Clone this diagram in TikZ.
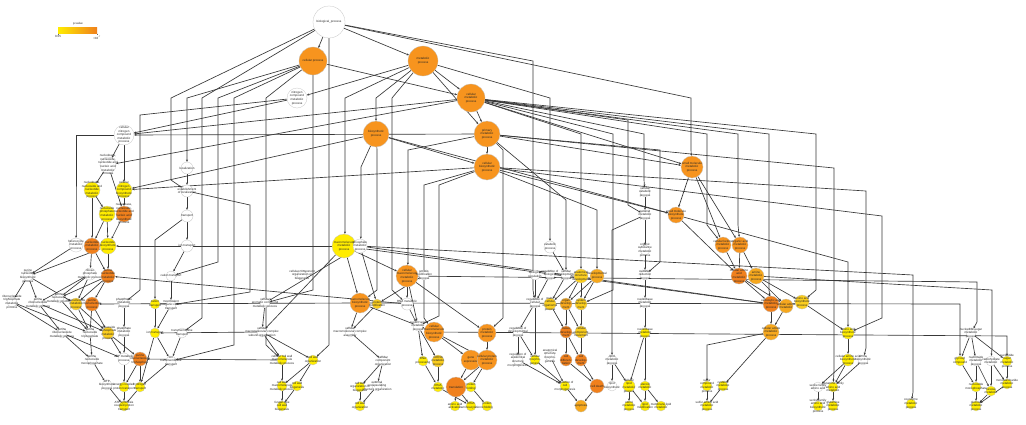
\documentclass[tikz,border=0pt]{standalone}
\usepackage{fontspec}
\setmainfont{Liberation Sans}
\usetikzlibrary{arrows.meta}
\pgfdeclarelayer{bg}
\pgfdeclarelayer{paper}
\pgfsetlayers{paper,bg,main}
\definecolor{OR}{RGB}{247,148,30}
\definecolor{OD}{RGB}{240,128,28}
\definecolor{OY}{RGB}{246,168,30}
\definecolor{YO}{RGB}{250,205,30}
\definecolor{YE}{RGB}{255,236,0}
\tikzset{
  gcirc/.style={circle,draw=gray!45,line width=0.3pt,inner sep=0pt},
  glab/.style={font=\fontsize{3}{3.6}\selectfont,align=center,inner sep=0pt,text=black!85},
  ed/.style={draw=black!78,line width=0.65pt,-{Stealth[length=2.4pt,width=2pt]}},
}
\newcommand\gnode[6]{\node[gcirc,minimum size=#4,fill=#5] (#1) at (#2,#3) {};\node[glab] at (#1) {#6};}
\newcommand\ed[2]{\draw[ed] (#1) -- (#2);}
\newcommand\eb[5]{\draw[ed] (#1) -- (#3,#4) -- (#3,#5) -- (#2);}
\begin{document}
\begin{tikzpicture}[x=1pt,y=-1pt]
\begin{pgfonlayer}{paper}
\fill[white] (0,0) rectangle (1026,424);
\end{pgfonlayer}
\useasboundingbox (0,0) rectangle (1026,424);
% legend
\node[glab] (pv) at (78,24) {p-value};
\node[minimum width=39,minimum height=6,inner sep=0pt,left color=YE,right color=OD,draw=none] (bar) at (77.5,30.5) {};
\node[glab,anchor=north] (l1) at (58,35.5) {0.05};
\node[glab,anchor=north] (l2) at (97,35.5) {<10\textsuperscript{-7}};
\draw[black!60,line width=0.3pt] (bar.south west) -- ++(0,1.5) (bar.south east) -- ++(0,1.5);
% nodes top
\gnode{bp}{329}{22}{32}{white}{biological\_process}
\gnode{cp}{313}{61}{28}{OR}{cellular process}
\gnode{mp}{423}{61}{30}{OR}{metabolic\\process}
\gnode{ncmp}{297}{98}{20}{white}{nitrogen\\compound\\metabolic\\process}
\gnode{cmp}{471}{98}{28}{OR}{cellular\\metabolic\\process}
\gnode{bsp}{376}{134}{26}{OR}{biosynthetic\\process}
\gnode{pmp}{487}{134}{26}{OR}{primary\\metabolic\\process}
\gnode{cbp}{487}{167}{26}{OR}{cellular\\biosynthetic\\process}
\gnode{smmp}{692}{167}{22}{OR}{small molecule\\metabolic\\process}
\gnode{cncmp}{124}{135}{20}{white}{cellular\\nitrogen\\compound\\metabolic\\process}
\gnode{nnmp}{108}{165}{16}{white}{nucleobase,\\nucleoside,\\nucleotide and\\nucleic acid\\metabolic\\process}
\gnode{loc}{187}{168}{12}{white}{localization}
\gnode{eloc}{187}{191}{12}{white}{establishment\\of localization}
\gnode{trans}{187}{216}{12}{white}{transport}
\gnode{iont}{187}{246}{12}{white}{ion transport}
\gnode{nnmp2}{92}{190}{16}{YE}{nucleobase,\\nucleoside and\\nucleotide\\metabolic\\process}
\gnode{cncbp}{124}{190}{16}{YE}{cellular\\nitrogen\\compound\\biosynthetic\\process}
\gnode{npmp}{107}{214}{16}{YE}{nucleoside\\phosphate\\metabolic\\process}
\gnode{nnbp}{124}{214}{16}{OD}{nucleobase,\\nucleoside,\\nucleotide and\\nucleic acid\\biosynthetic\\process}
\gnode{hmp}{76}{245}{14}{white}{heterocycle\\metabolic\\process}
\gnode{ntmp}{92}{246}{16}{OD}{nucleotide\\metabolic\\process}
\gnode{nbp}{108}{246}{16}{YE}{nucleotide\\biosynthetic\\process}
\gnode{mmp}{344}{246}{24}{YE}{macromolecule\\metabolic\\process}
\gnode{cmmp}{360}{246}{14}{white}{phosphate\\metabolic\\process}
\gnode{cat}{550}{247}{12}{white}{catabolic\\process}
\gnode{ccp}{645}{192}{10}{white}{cellular\\catabolic\\process}
\gnode{oxp}{645}{215}{10}{white}{oxoacid\\metabolic\\process}
\gnode{ocap}{645}{250}{10}{white}{organic\\substance\\metabolic\\process}
\gnode{smbp}{676}{215}{16}{OR}{small molecule\\biosynthetic\\process}
\gnode{ckmp}{723}{245}{16}{OR}{cellular ketone\\metabolic\\process}
\gnode{camp}{740}{245}{16}{OR}{organic acid\\metabolic\\process}
% row 276
\gnode{ra}{28}{276}{10}{white}{purine\\nucleotide\\biosynthetic\\process}
\gnode{rb}{90}{274}{12}{white}{ribose\\phosphate\\metabolic process}
\gnode{rc}{108}{276}{14}{OD}{purine\\nucleotide\\metabolic\\process}
\gnode{rd}{171}{276}{10}{white}{cation transport}
\gnode{re}{302}{275}{10}{white}{cellular component\\organization or\\biogenesis}
\gnode{rf}{407}{276}{22}{OR}{cellular\\macromolecule\\metabolic\\process}
\gnode{rg}{424}{275}{10}{white}{protein\\modification\\process}
\gnode{rh}{535}{275}{10}{white}{biological\\regulation}
\gnode{ri}{550}{275}{10}{white}{regulation of\\biological\\process}
\gnode{rj}{566}{275}{10}{white}{cellular\\developmental\\process}
\gnode{rk}{581}{276}{14}{YO}{anatomical\\structure\\development}
\gnode{rl}{597}{276}{14}{OY}{developmental\\process}
\gnode{rm}{645}{275}{10}{white}{oxidation\\reduction\\process}
\gnode{rn}{739}{276}{16}{OD}{cellular amino\\acid\\metabolic\\process}
\gnode{ro}{756}{276}{16}{OY}{amine\\metabolic\\process}
% row 304
\gnode{sa}{12}{302}{10}{white}{ribonucleoside\\triphosphate\\metabolic\\process}
\gnode{sb}{38}{303}{10}{white}{purine\\ribonucleotide\\metabolic process}
\gnode{sc}{59}{298}{10}{white}{purine\\nucleoside\\metabolic process}
\gnode{sd}{76}{304}{12}{YO}{ribonucleotide\\metabolic\\process}
\gnode{se}{92}{304}{14}{OD}{purine\\ribonucleotide\\process}
\gnode{sf}{124}{303}{10}{white}{phosphorus\\metabolic\\process}
\gnode{sg}{155}{304}{10}{YE}{cation\\transport}
\gnode{sh}{171}{305}{10}{white}{monovalent\\inorganic cation\\transport}
\gnode{si}{265}{303}{10}{white}{cellular\\aromatic compound\\metabolic process}
\gnode{sj}{360}{303}{20}{OR}{macromolecule\\biosynthetic\\process}
\gnode{sk}{377}{304}{10}{YO}{protein\\modification}
\gnode{sl}{407}{304}{12}{white}{RNA metabolic\\process}
\gnode{sm}{535}{303}{10}{white}{regulation of\\cellular\\process}
\gnode{sn}{550}{304}{12}{YO}{multi-\\cellular\\organismal\\process}
\gnode{so}{566}{304}{12}{OY}{organ\\develop-\\ment}
\gnode{sp}{581}{304}{12}{YO}{system\\develop-\\ment}
\gnode{sq}{645}{303}{10}{white}{nucleobase\\metabolic\\process}
\gnode{sr}{771}{304}{16}{OD}{carboxylic acid\\metabolic\\process}
\gnode{ss}{786}{306}{14}{OY}{cellular amine\\metabolic}
\gnode{st}{802}{302}{14}{YO}{amino acid\\biosynthetic\\process}
% row 333
\gnode{ta}{62}{333}{10}{white}{purine\\ribonucleoside\\metabolic process}
\gnode{tb}{90}{333}{10}{white}{purine\\nucleoside\\triphosphate}
\gnode{tc}{108}{333}{12}{YO}{nucleoside\\triphosphate\\metabolic\\process}
\gnode{td}{124}{332}{10}{white}{phosphate\\metabolic\\process}
\gnode{te}{155}{333}{10}{YE}{ion transport}
\gnode{tf}{182}{333}{10}{white}{transmembrane\\transport}
\gnode{tg}{262}{332}{10}{white}{cellular\\macromolecular complex\\subunit organization}
\gnode{th}{350}{332}{10}{white}{cellular\\macromolecular complex\\assembly}
\gnode{ti}{418}{326}{10}{white}{nucleic acid\\metabolic\\process}
\gnode{tj}{434}{332}{20}{OR}{cellular\\macromolecule\\biosynthetic\\process}
\gnode{tk}{487}{333}{18}{OR}{protein\\metabolic\\process}
\gnode{tl}{518}{332}{10}{white}{regulation of\\developmental\\process}
\gnode{tm}{566}{332}{12}{OD}{tissue\\develop-\\ment}
\gnode{tn}{581}{332}{12}{YO}{cellular\\component\\movement}
\gnode{tp}{645}{333}{10}{YE}{nucleobase\\metabolic\\process}
\gnode{tr}{771}{332}{16}{OY}{cellular amide\\metabolic\\process}
\gnode{ts}{848}{333}{12}{YE}{amino acid\\biosynthetic\\process}
\gnode{tt}{971}{333}{10}{white}{nucleotide-sugar\\metabolic\\process}
% row 360
\gnode{ua}{92}{360}{10}{white}{purine\\nucleoside\\monophosphate}
\gnode{ub}{124}{359}{12}{white}{ATP metabolic\\process}
\gnode{uc}{140}{359}{14}{OD}{purine\\ribonucleoside\\triphosphate}
\gnode{ud}{171}{361}{10}{white}{ion\\transmembrane\\transport}
\gnode{ue}{282}{360}{10}{YE}{cellular cell wall\\macromolecule\\metabolic process}
\gnode{uf}{313}{360}{10}{YE}{cell wall\\organization}
\gnode{ug}{383}{361}{10}{white}{cellular\\component\\organization}
\gnode{uh}{423}{361}{10}{YE}{RNA\\processing}
\gnode{ui}{438}{361}{12}{YO}{ncRNA\\metabolic\\process}
\gnode{uj}{471}{360}{20}{OR}{gene\\expression}
\gnode{uk}{487}{360}{20}{OR}{cellular protein\\metabolic\\process}
\gnode{ul}{518}{360}{10}{white}{regulation of\\anatomical\\structure\\morphogenesis}
\gnode{um}{535}{360}{10}{YE}{cellular\\morpho-\\genesis}
\gnode{un}{550}{356}{10}{white}{anatomical\\structure\\morpho-\\genesis}
\gnode{uo}{566}{360}{12}{OD}{cell\\differen-\\tiation}
\gnode{up}{581}{360}{12}{OD}{cell\\develop-\\ment}
\gnode{uq}{612}{360}{10}{white}{lipid\\metabolic\\process}
\gnode{ur}{848}{360}{12}{YE}{cellular amino acid\\biosynthetic\\process}
\gnode{us}{863}{360}{10}{white}{amine\\biosynthetic\\process}
\gnode{ut}{960}{361}{10}{YE}{glycosyl\\compound}
\gnode{uu}{976}{361}{10}{white}{nucleoside\\metabolic\\process}
\gnode{uv}{991}{361}{10}{white}{carbohydrate\\metabolic}
\gnode{uw}{1007}{361}{10}{YE}{nucleotide\\sugar\\metabolic\\process}
% row 387
\gnode{va}{107}{385}{10}{white}{ATP\\biosynthetic\\process}
\gnode{vb}{124}{387}{10}{YE}{energy coupled\\proton transport}
\gnode{vc}{140}{387}{10}{YE}{hydrogen\\transport}
\gnode{vd}{282}{386}{10}{YE}{cell wall\\macromolecule\\metabolic process}
\gnode{ve}{297}{386}{10}{YE}{cell wall\\biogenesis}
\gnode{vf}{360}{387}{10}{YE}{cell wall\\organization or\\biogenesis}
\gnode{vg}{377}{386}{10}{white}{external\\encapsulating\\structure organization}
\gnode{vh}{438}{387}{10}{YE}{tRNA\\metabolic}
\gnode{vi}{456}{387}{20}{OD}{translation}
\gnode{vj}{471}{387}{10}{YE}{protein\\folding}
\gnode{vk}{565}{386}{10}{YE}{regulation of\\cell\\morphogenesis}
\gnode{vl}{597}{386}{14}{OD}{cell death}
\gnode{vm}{612}{386}{10}{white}{lipid\\biosynthetic}
\gnode{vn}{629}{386}{12}{YE}{cellular\\lipid\\metabolic\\process}
\gnode{vp}{645}{386}{10}{YE}{steroid\\metabolic}
\gnode{vq}{707}{386}{10}{YE}{sulfur\\compound\\metabolic\\process}
\gnode{vr}{723}{386}{10}{YE}{cysteine\\metabolic\\process}
\gnode{vs}{818}{387}{10}{white}{serine family\\amino acid}
\gnode{vt}{833}{387}{10}{YE}{glutamine family\\amino acid\\metabolic}
\gnode{vu}{976}{387}{10}{YE}{nucleoside\\monophosphate}
\gnode{vv}{991}{391}{10}{YE}{hexose\\metabolic}
\gnode{vw}{1007}{384}{10}{YE}{monosaccharide\\metabolic\\process}
% row 406
\gnode{wa}{124}{406}{10}{YE}{ATP synthesis\\coupled proton\\transport}
\gnode{wb}{282}{406}{10}{YE}{fungal-type\\cell wall\\biogenesis}
\gnode{wc}{360}{406}{10}{YE}{cell wall\\organization}
\gnode{wd}{455}{406}{10}{YE}{amino acid\\activation}
\gnode{we}{471}{406}{10}{YE}{tRNA\\aminoacylation}
\gnode{wf}{487}{406}{10}{YE}{protein\\refolding}
\gnode{wg}{581}{406}{12}{OY}{apoptosis}
\gnode{wh}{629}{406}{10}{YE}{sterol\\metabolic\\process}
\gnode{wi}{645}{406}{10}{YE}{lipid\\modification}
\gnode{wj}{661}{406}{10}{YE}{membrane lipid\\metabolic}
\gnode{wk}{707}{406}{10}{YE}{sulfur amino acid\\metabolic\\process}
\gnode{wl}{818}{406}{10}{YE}{serine family\\amino acid\\biosynthetic\\process}
\gnode{wm}{833}{406}{10}{YE}{glutamine\\metabolic\\process}
\gnode{wn}{911}{404}{10}{YE}{coenzyme\\metabolic\\process}
\gnode{wo}{976}{406}{10}{YE}{glucose\\metabolic\\process}
% edges
\begin{pgfonlayer}{bg}
\ed{bp}{cp} \ed{bp}{mp}
\eb{bp}{eloc}{171}{98}{180}
\eb{bp}{tf}{202}{98}{318}
\eb{bp}{uf}{329}{40}{345}
\eb{bp}{sm}{533}{61}{290}
\eb{bp}{smmp}{691}{98}{150}
\eb{cp}{loc}{187}{98}{158}
\eb{cp}{ud}{234}{98}{345}
\eb{cp}{ue}{266}{98}{345}
\eb{cp}{si}{313}{85}{290}
\eb{cp}{rd}{218}{98}{262}
\ed{cp}{cmp}
\ed{mp}{ncmp} \ed{mp}{cmp}
\eb{mp}{bsp}{376}{98}{118}
\eb{mp}{sl}{392}{98}{290}
\eb{mp}{mmp}{345}{98}{232}
\eb{mp}{cat}{550}{98}{238}
\ed{mp}{pmp}
\ed{ncmp}{cncmp} \ed{cmp}{cncmp} \ed{pmp}{cncmp}
\ed{cmp}{pmp} \ed{bsp}{cbp} \ed{pmp}{cbp}
\eb{cmp}{ccp}{644}{134}{180}
\ed{cmp}{smmp}
\eb{cmp}{ckmp}{707}{134}{225}
\eb{cmp}{camp}{738}{134}{225}
\eb{cmp}{sr}{769}{134}{290}
\eb{cmp}{st}{816}{134}{290}
\eb{cmp}{sp}{613}{134}{290}
\eb{cmp}{rk}{581}{134}{262}
\eb{pmp}{vt}{834}{168}{372}
\eb{cbp}{us}{866}{191}{348}
\eb{cbp}{ts}{882}{216}{318}
\eb{pmp}{rm}{660}{150}{262}
\eb{cmp}{oxp}{628}{120}{205}
\ed{bsp}{smbp} \ed{pmp}{smmp} \ed{cbp}{smbp}
\eb{bsp}{sj}{377}{150}{290}
\eb{bsp}{cmmp}{361}{167}{236}
\eb{cbp}{tj}{424}{185}{318}
\eb{pmp}{rf}{408}{150}{262}
\eb{cbp}{ti}{439}{185}{316}
\eb{pmp}{tk}{503}{150}{318}
\eb{pmp}{rj}{566}{200}{262}
\eb{cbp}{rl}{597}{210}{262}
\eb{cncmp}{hmp}{76}{135}{236}
\ed{cncmp}{nnmp} \ed{cncmp}{cncbp}
\ed{nnmp}{nnmp2} \ed{nnmp}{nnbp} \ed{cncbp}{nnbp} \ed{nnmp2}{npmp} \ed{nnmp2}{ntmp}
\ed{npmp}{ntmp} \ed{npmp}{nbp} \ed{nnbp}{nbp}
\ed{cmp}{nnmp} \ed{cbp}{cncbp} \ed{bsp}{cncbp} \ed{mmp}{nbp} \ed{sl}{rc}
\ed{ntmp}{rb} \ed{ntmp}{rc} \ed{nbp}{rc} \ed{nbp}{ra} \ed{hmp}{ra}
\ed{ra}{sa} \ed{ra}{sb} \ed{rb}{sc} \ed{rb}{sd} \ed{rc}{sd} \ed{rc}{se} \ed{rb}{sb} \ed{ra}{sd} \ed{rc}{sc}
\ed{sa}{ta} \ed{sb}{ta} \ed{sc}{tb} \ed{sd}{tc} \ed{se}{tc} \ed{sd}{tb} \ed{se}{tb} \ed{sf}{td} \ed{sa}{tb} \ed{sb}{tc}
\ed{ta}{ua} \ed{tb}{ua} \ed{tc}{ub} \ed{td}{ub} \ed{tc}{uc} \ed{ta}{ub}
\ed{ua}{va} \ed{ub}{vb} \ed{uc}{vb} \ed{uc}{vc} \ed{vb}{wa} \ed{vc}{wa} \ed{va}{wa}
\ed{loc}{eloc} \ed{eloc}{trans} \ed{trans}{iont} \ed{iont}{rd}
\eb{trans}{sg}{155}{240}{292}
\eb{eloc}{sh}{250}{205}{292}
\eb{ncmp}{sf}{140}{115}{290}
\ed{rd}{sh} \ed{sg}{te} \ed{sh}{te} \ed{te}{vc} \ed{tf}{ud} \ed{te}{ud} \ed{ud}{vc}
\ed{sj}{se} \ed{tg}{te} \ed{ue}{uc} \ed{mmp}{sr} \ed{cmmp}{ss}
\ed{mmp}{rf} \ed{mmp}{sj} \ed{cmmp}{sk} \ed{rf}{sl} \ed{rf}{tk} \ed{rf}{ti} \ed{sj}{tj} \ed{sl}{ti} \ed{sk}{th}
\ed{ti}{uh} \ed{ti}{ui} \ed{tj}{uj} \ed{tk}{uk} \ed{tj}{uk}
\ed{uj}{vi} \ed{uk}{vi} \ed{ui}{vh} \ed{uh}{vh} \ed{vi}{wd} \ed{vh}{we} \ed{vi}{we} \ed{uk}{vj} \ed{vj}{wf}
\ed{sj}{th} \ed{th}{ug} \ed{ug}{vg} \ed{ug}{vf} \ed{vf}{wc} \ed{vg}{wc}
\ed{si}{tg} \ed{tg}{ue} \ed{tg}{uf} \ed{ue}{vd} \ed{uf}{ve} \ed{vd}{wb} \ed{ve}{wb} \ed{uf}{vd}
\ed{cmmp}{si} \ed{mmp}{tg} \ed{rg}{sk}
\ed{cat}{rj} \ed{rh}{sm} \ed{ri}{sm} \ed{rj}{sn} \ed{rk}{sn} \ed{rk}{so} \ed{rl}{sp} \ed{rl}{so} \ed{rk}{sp}
\ed{sm}{tl} \ed{sn}{tm} \ed{so}{tm} \ed{sp}{tn} \ed{so}{tn}
\ed{tl}{ul} \ed{tl}{um} \ed{tm}{uo} \ed{tn}{up} \ed{tm}{up} \ed{sm}{um}
\ed{ul}{vk} \ed{um}{vk} \ed{uo}{vl} \ed{up}{vl} \ed{vl}{wg} \ed{vk}{wg} \ed{un}{vk}
\ed{sq}{tp} \ed{rm}{sq} \ed{tp}{vn}
\ed{uq}{vm} \ed{uq}{vn} \ed{vn}{wh} \ed{vp}{wi} \ed{vn}{wi} \ed{vp}{wj} \ed{tp}{vp}
\eb{oxp}{uq}{612}{230}{345}
\ed{ccp}{oxp} \ed{oxp}{ocap} \ed{ocap}{rm}
\ed{smmp}{smbp} \ed{smmp}{ckmp} \ed{smmp}{camp} \ed{ckmp}{rn} \ed{camp}{rn} \ed{camp}{ro} \ed{smbp}{rn}
\ed{rn}{sr} \ed{ro}{ss} \ed{ro}{st} \ed{rn}{ss} \ed{sr}{tr} \ed{ss}{tr} \ed{st}{ts} \ed{ts}{ur}
\ed{ur}{vs} \ed{ur}{vt} \ed{vs}{wl} \ed{vt}{wm} \ed{us}{vt}
\eb{tr}{vq}{707}{345}{374}
\ed{vq}{wk} \ed{vr}{wk} \ed{tr}{vr}
\eb{cmmp}{wn}{913}{275}{392}
\eb{rf}{tt}{977}{282}{322}
\eb{sj}{ut}{960}{304}{350}
\eb{tj}{uw}{1007}{336}{350}
\eb{ro}{uv}{992}{290}{348}
\eb{smbp}{ts}{848}{262}{320}
\ed{tt}{ut} \ed{tt}{uu} \ed{tt}{uw} \ed{ut}{vu} \ed{uu}{vu} \ed{uu}{vv} \ed{uv}{vv} \ed{uw}{vw} \ed{uv}{vw}
\ed{vu}{wo} \ed{vv}{wo} \ed{vw}{wo}
\end{pgfonlayer}
\end{tikzpicture}
\end{document}
